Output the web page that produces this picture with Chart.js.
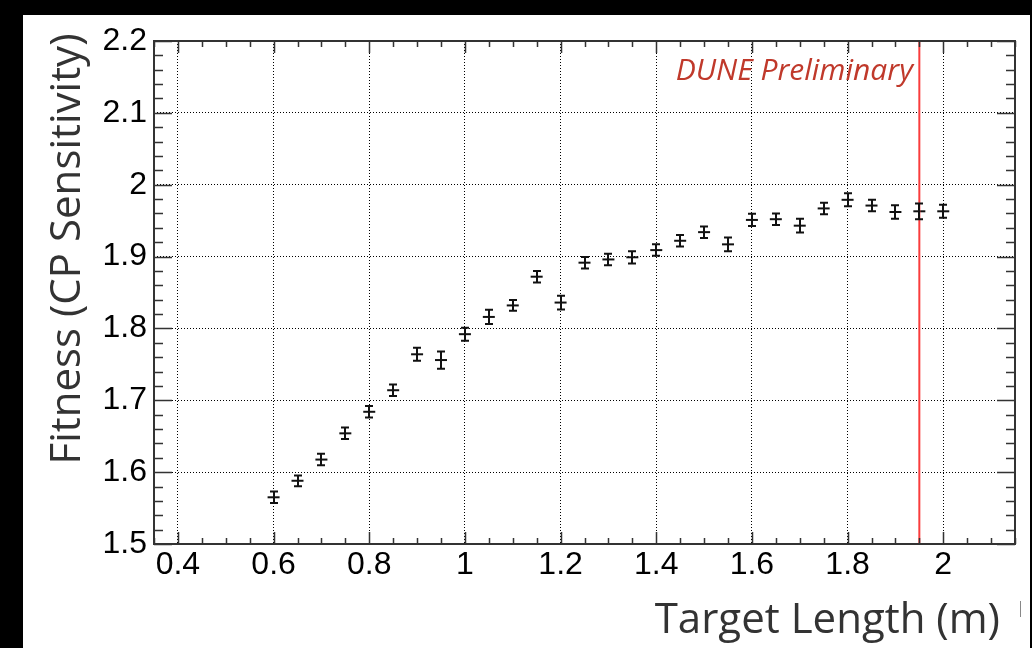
<!DOCTYPE html>
<html lang="en">
<head>
<meta charset="UTF-8" />
<title>Fitness vs Target Length</title>
<script src="https://cdn.jsdelivr.net/npm/chart.js"></script>
<style>
  html, body { margin: 0; padding: 0; background: #000; }
  #wrap { width: 1032px; height: 648px; }
</style>
</head>
<body>
<div id="wrap"><canvas id="fit-chart" width="1032" height="648"></canvas></div>
<script>
// values
const targetLength = [0.6, 0.65, 0.7, 0.75, 0.8, 0.85, 0.9, 0.95, 1.0, 1.05,
  1.1, 1.15, 1.2, 1.25, 1.3, 1.35, 1.4, 1.45, 1.5, 1.55,
  1.6, 1.65, 1.7, 1.75, 1.8, 1.85, 1.9, 1.95, 2.0];
const fitness = [1.565, 1.588, 1.6175, 1.654, 1.684, 1.714, 1.764, 1.756, 1.792, 1.816,
  1.832, 1.872, 1.836, 1.8915, 1.896, 1.899, 1.909, 1.922, 1.934, 1.917,
  1.951, 1.952, 1.943, 1.967, 1.979, 1.971, 1.962, 1.963, 1.963];
const fitnessErr = [0.008, 0.0075, 0.008, 0.008, 0.008, 0.008, 0.009, 0.012, 0.009, 0.01,
  0.0075, 0.008, 0.0095, 0.008, 0.008, 0.0085, 0.008, 0.008, 0.008, 0.0095,
  0.0085, 0.008, 0.0095, 0.008, 0.009, 0.008, 0.0095, 0.011, 0.009];
const xTicks = [0.4, 0.6, 0.8, 1, 1.2, 1.4, 1.6, 1.8, 2];
const yTicks = [1.5, 1.6, 1.7, 1.8, 1.9, 2, 2.1, 2.2];
const xMinorStep = 0.05;
const yMinorStep = 0.02;
const nominalLength = 1.95;
const xTitle = 'Target Length (m)';
const yTitle = 'Fitness (CP Sensitivity)';
const stamp = 'DUNE Preliminary';

const tickFont = { family: '"Liberation Sans", Arial, sans-serif', size: 32 };
const fmt = v => String(Number(Number(v).toFixed(2)));

// ROOT-like frame, inward ticks, error bars and texts
const rootStyle = {
  id: 'rootStyle',
  beforeDraw(chart) {
    const ctx = chart.ctx;
    ctx.save();
    ctx.fillStyle = '#000';
    ctx.fillRect(0, 0, chart.width, chart.height);
    ctx.fillStyle = '#fff';
    ctx.fillRect(23, 15, 1007, 633);
    ctx.restore();
  },
  afterDatasetsDraw(chart) {
    const { ctx, chartArea: a, scales: { x, y } } = chart;
    ctx.save();

    // error bars
    ctx.strokeStyle = '#111';
    ctx.lineWidth = 2;
    targetLength.forEach((len, i) => {
      const px = Math.round(x.getPixelForValue(len));
      const lo = y.getPixelForValue(fitness[i] - fitnessErr[i]);
      const hi = y.getPixelForValue(fitness[i] + fitnessErr[i]);
      ctx.beginPath();
      ctx.moveTo(px, lo); ctx.lineTo(px, hi);
      ctx.moveTo(px - 4, lo); ctx.lineTo(px + 4, lo);
      ctx.moveTo(px - 4, hi); ctx.lineTo(px + 4, hi);
      ctx.stroke();
    });

    // frame
    ctx.strokeStyle = '#333';
    ctx.lineWidth = 2;
    ctx.strokeRect(a.left, a.top, a.right - a.left, a.bottom - a.top);

    // inward ticks on all four sides
    ctx.lineWidth = 1.5;
    ctx.beginPath();
    const isMajor = (v, list) => list.some(t => Math.abs(t - v) < 1e-6);
    for (let v = Math.ceil(x.min / xMinorStep) * xMinorStep; v <= x.max + 1e-9; v += xMinorStep) {
      const px = Math.round(x.getPixelForValue(v)) + 0.5;
      const len = isMajor(v, xTicks) ? 12 : 6;
      ctx.moveTo(px, a.bottom); ctx.lineTo(px, a.bottom - len);
      ctx.moveTo(px, a.top); ctx.lineTo(px, a.top + len);
    }
    for (let v = Math.ceil(y.min / yMinorStep) * yMinorStep; v <= y.max + 1e-9; v += yMinorStep) {
      const py = Math.round(y.getPixelForValue(v)) + 0.5;
      const len = isMajor(v, yTicks) ? 18 : 9;
      ctx.moveTo(a.left, py); ctx.lineTo(a.left + len, py);
      ctx.moveTo(a.right, py); ctx.lineTo(a.right - len, py);
    }
    ctx.stroke();

    // stamp
    ctx.fillStyle = '#c0392b';
    ctx.font = 'italic 30px "Open Sans", sans-serif';
    ctx.textAlign = 'right';
    ctx.textBaseline = 'alphabetic';
    ctx.fillText(stamp, 913, 80);

    // axis titles
    ctx.fillStyle = '#333';
    ctx.font = '42px "Open Sans", sans-serif';
    ctx.fillText(xTitle, 1000, 633);
    ctx.save();
    ctx.translate(80, 249);
    ctx.rotate(-Math.PI / 2);
    ctx.textAlign = 'center';
    ctx.fillText(yTitle, 0, 0);
    ctx.restore();

    // small slide artifact at the right
    ctx.strokeStyle = '#888';
    ctx.lineWidth = 1;
    ctx.beginPath();
    ctx.moveTo(1020.5, 601); ctx.lineTo(1020.5, 617);
    ctx.stroke();

    ctx.restore();
  }
};

const ctx = document.getElementById('fit-chart').getContext('2d');
const fitChart = new Chart(ctx, {
  data: {
    datasets: [
      {
        type: 'line',
        label: 'nominal',
        data: [{ x: nominalLength, y: yTicks[0] }, { x: nominalLength, y: yTicks[yTicks.length - 1] }],
        borderColor: 'rgb(250, 60, 60)',
        borderWidth: 2,
        pointRadius: 0,
        fill: false
      },
      {
        type: 'scatter',
        label: 'fitness',
        data: targetLength.map((len, i) => ({ x: len, y: fitness[i] })),
        pointStyle: 'line',
        pointRadius: 6,
        borderColor: '#111',
        borderWidth: 2
      }
    ]
  },
  options: {
    responsive: false,
    animation: false,
    events: [],
    layout: { padding: { left: 23, top: 41, right: 17, bottom: 0 } },
    plugins: { legend: { display: false }, tooltip: { enabled: false } },
    scales: {
      x: {
        type: 'linear',
        min: 0.35,
        max: 2.15,
        afterBuildTicks: s => { s.ticks = xTicks.map(v => ({ value: v })); },
        afterFit: s => { s.height = 104; },
        grid: { color: '#000', lineWidth: 1, drawTicks: false },
        border: { display: false, dash: [1, 2] },
        ticks: { font: tickFont, color: '#000', padding: 2, maxRotation: 0, autoSkip: false, callback: v => fmt(v) }
      },
      y: {
        type: 'linear',
        min: 1.5,
        max: 2.2,
        afterBuildTicks: s => { s.ticks = yTicks.map(v => ({ value: v })); },
        afterFit: s => { s.width = 131; },
        grid: { color: '#000', lineWidth: 1, drawTicks: false },
        border: { display: false, dash: [1, 2] },
        ticks: { font: tickFont, color: '#000', padding: 7, autoSkip: false, callback: v => fmt(v) }
      }
    }
  },
  plugins: [rootStyle]
});
</script>
</body>
</html>
